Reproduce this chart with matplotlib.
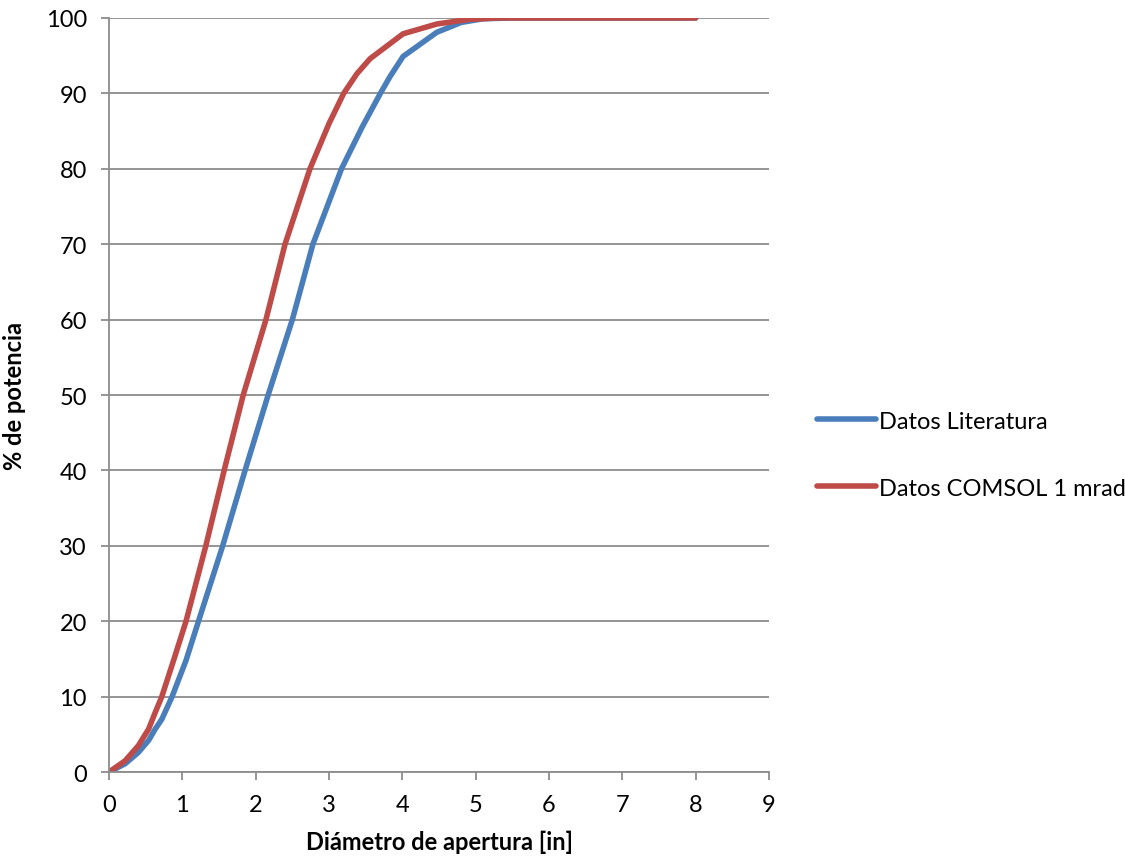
import matplotlib
matplotlib.use("Agg")
import matplotlib.pyplot as plt

# Datos
x_lit = [0, 0.22, 0.40, 0.54, 0.63, 0.72, 0.86, 1.05, 1.22, 1.55, 1.855, 2.17,
         2.50, 2.78, 3.17, 3.45, 3.70, 3.83, 4.01, 4.47, 4.8, 5.1, 5.5, 6, 7, 8]
y_lit = [0, 1.1, 2.6, 4.2, 5.7, 7.0, 10, 14.8, 20, 30, 40, 50,
         60, 70, 80, 85.5, 90, 92.2, 94.9, 98.1, 99.4, 99.9, 100, 100, 100, 100]

x_com = [0, 0.22, 0.40, 0.54, 0.63, 0.72, 0.88, 1.05, 1.32, 1.57, 1.83, 2.14,
         2.40, 2.74, 3.0, 3.20, 3.38, 3.56, 4.01, 4.47, 4.9, 5.3, 6, 7, 8]
y_com = [0, 1.5, 3.5, 5.7, 7.9, 10, 14.8, 20, 30, 40, 50, 60,
         70, 80, 86, 90, 92.6, 94.6, 97.9, 99.2, 99.8, 100, 100, 100, 100]

plt.rcParams['font.family'] = ['Lato', 'DejaVu Sans']
fs = 17

fig = plt.figure(figsize=(11.25, 8.62), dpi=100)
ax = fig.add_axes([0.0969, 0.1032, 0.5867, 0.8748])

l1, = ax.plot(x_lit, y_lit, color='#4a7ebb', lw=4, solid_capstyle='round',
              label='Datos Literatura')
l2, = ax.plot(x_com, y_com, color='#be4b48', lw=4, solid_capstyle='round',
              label='Datos COMSOL 1 mrad')

ax.set_xlim(0, 9)
ax.set_ylim(0, 100)
ax.set_xticks(range(0, 10))
ax.set_yticks(range(0, 101, 10))
ax.yaxis.grid(True, color='#8c8c8c', lw=1.3)
ax.set_axisbelow(True)
for s in ['top', 'right']:
    ax.spines[s].set_visible(False)
for s in ['left', 'bottom']:
    ax.spines[s].set_color('#8c8c8c')
    ax.spines[s].set_linewidth(1.3)
ax.tick_params(axis='both', direction='out', length=6, color='#8c8c8c',
               labelsize=fs, width=1.3)
ax.tick_params(axis='x', pad=10)
ax.tick_params(axis='y', pad=10)

ax.set_xlabel('Diámetro de apertura [in]', fontsize=fs, fontweight='bold',
              labelpad=10)
ax.set_ylabel('% de potencia', fontsize=fs, fontweight='bold', labelpad=14)

fig.legend(handles=[l1, l2], loc='center left', bbox_to_anchor=(0.707, 0.4715),
           frameon=False, fontsize=fs, handlelength=2.5, handletextpad=0.15,
           labelspacing=1.95)

fig.savefig('out.png', dpi=100)
